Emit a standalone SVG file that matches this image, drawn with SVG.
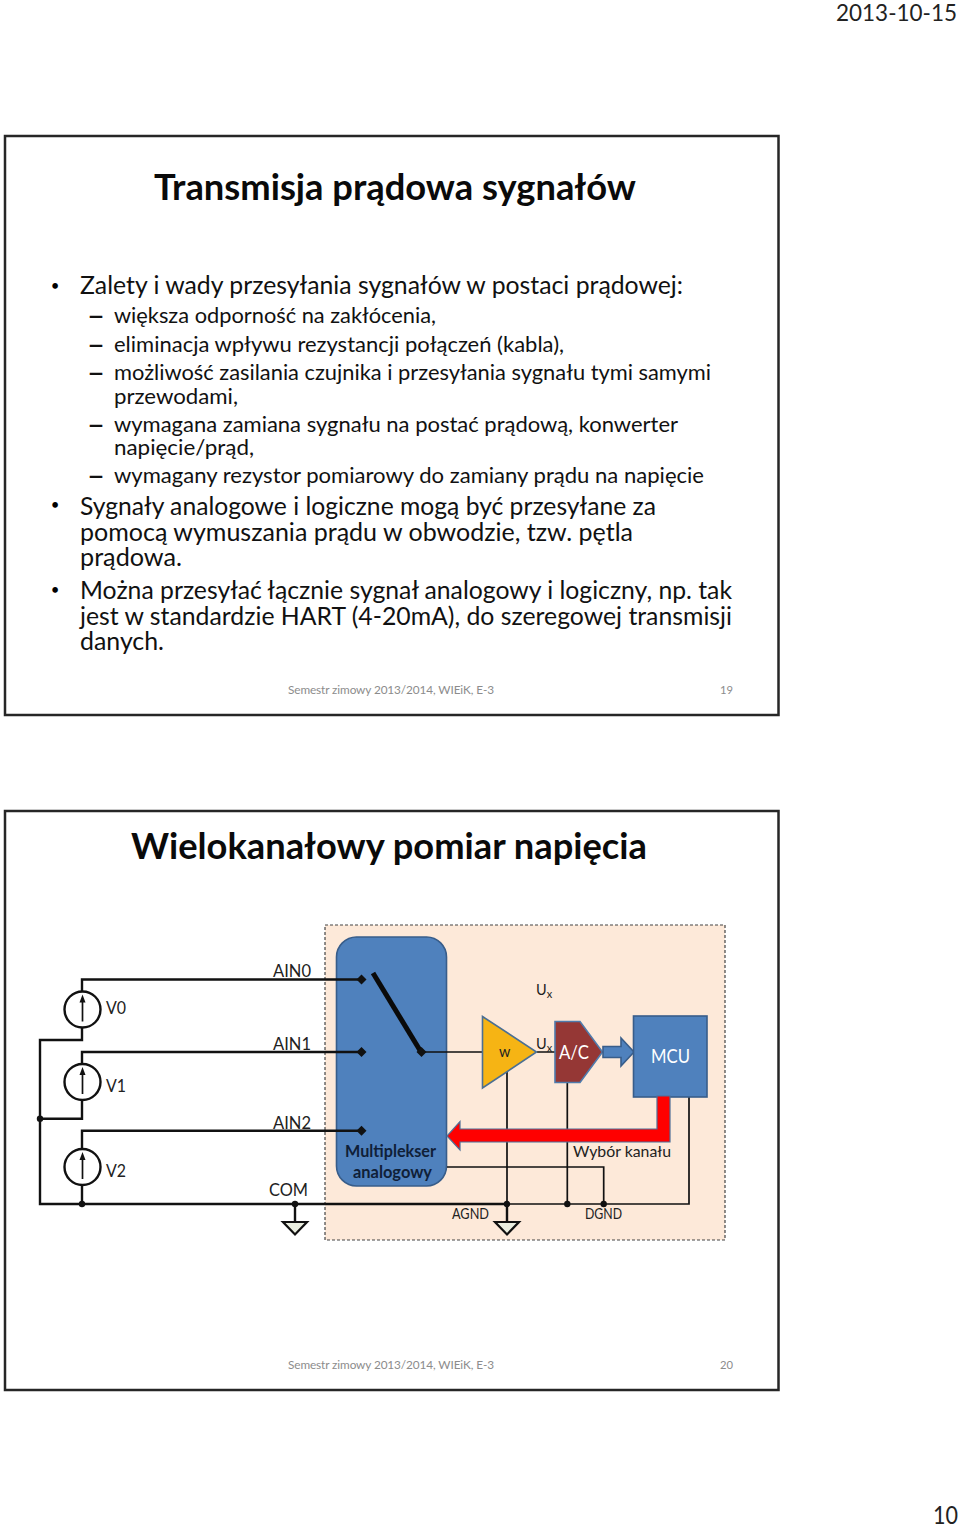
<svg xmlns="http://www.w3.org/2000/svg" width="960" height="1527" viewBox="0 0 960 1527">
<style>
text{font-family:Lato,"Carlito","Noto Sans",sans-serif;fill:#111}
.t{font-weight:700;font-size:36px;fill:#0a0a0a}
.b{font-size:24.5px}
.s{font-size:22px}
.u{font-size:15px;text-anchor:middle;fill:#000}
.d{font-size:26px;font-weight:700}
.f{font-size:11.8px;fill:#8c8c8c}
.l{font-size:17.5px;fill:#222}
.m{font-size:14.5px;fill:#222}
.frame{fill:#fff;stroke:#262626;stroke-width:2.5}
.w{fill:none;stroke:#111;stroke-width:2.4}
.n{fill:none;stroke:#111;stroke-width:1.7}
.dot{fill:#111}
.gnd{fill:#eaeee0;stroke:#111;stroke-width:2.2}
.blue{fill:#4f81bd;stroke:#385d8a;stroke-width:1.6}
.src{fill:#fff;stroke:#111;stroke-width:2.4}
</style>
<defs>
<g id="source"><circle r="18" class="src"/><path d="M0 12V-8" class="n"/><path d="M-3-7 0-15 3-7Z" class="dot"/></g>
<path id="pin" d="M-5 0 0-5 5 0 0 5Z" class="dot"/>
</defs>

<text x="836" y="21" font-size="23.5" textLength="121" lengthAdjust="spacingAndGlyphs" style="fill:#222">2013-10-15</text>
<text x="933" y="1524" font-size="25.5" textLength="25" lengthAdjust="spacingAndGlyphs" style="fill:#222">10</text>

<g id="slide-19">
<rect x="5" y="136" width="773.500" height="579" class="frame"/>
<text class="t" x="154" y="199.500" textLength="482" lengthAdjust="spacingAndGlyphs">Transmisja prądowa sygnałów</text>
<text class="u" x="55" y="290.500">•</text>
<text class="b" x="80" y="294" textLength="603" lengthAdjust="spacingAndGlyphs">Zalety i wady przesyłania sygnałów w postaci prądowej:</text>
<text class="d" x="87" y="325" textLength="18" lengthAdjust="spacingAndGlyphs">–</text>
<text class="s" x="114" y="323" textLength="322" lengthAdjust="spacingAndGlyphs">większa odporność na zakłócenia,</text>
<text class="d" x="87" y="354" textLength="18" lengthAdjust="spacingAndGlyphs">–</text>
<text class="s" x="114" y="352" textLength="450" lengthAdjust="spacingAndGlyphs">eliminacja wpływu rezystancji połączeń (kabla),</text>
<text class="d" x="87" y="382" textLength="18" lengthAdjust="spacingAndGlyphs">–</text>
<text class="s" x="114" y="380" textLength="597" lengthAdjust="spacingAndGlyphs">możliwość zasilania czujnika i przesyłania sygnału tymi samymi</text>
<text class="s" x="114" y="403.500" textLength="124" lengthAdjust="spacingAndGlyphs">przewodami,</text>
<text class="d" x="87" y="433.500" textLength="18" lengthAdjust="spacingAndGlyphs">–</text>
<text class="s" x="114" y="431.500" textLength="564" lengthAdjust="spacingAndGlyphs">wymagana zamiana sygnału na postać prądową, konwerter</text>
<text class="s" x="114" y="455" textLength="140" lengthAdjust="spacingAndGlyphs">napięcie/prąd,</text>
<text class="d" x="87" y="485" textLength="18" lengthAdjust="spacingAndGlyphs">–</text>
<text class="s" x="114" y="483" textLength="590" lengthAdjust="spacingAndGlyphs">wymagany rezystor pomiarowy do zamiany prądu na napięcie</text>
<text class="u" x="55" y="510">•</text>
<text class="b" x="80" y="515" textLength="576" lengthAdjust="spacingAndGlyphs">Sygnały analogowe i logiczne mogą być przesyłane za</text>
<text class="b" x="80" y="540.500" textLength="553" lengthAdjust="spacingAndGlyphs">pomocą wymuszania prądu w obwodzie, tzw. pętla</text>
<text class="b" x="80" y="566" textLength="102" lengthAdjust="spacingAndGlyphs">prądowa.</text>
<text class="u" x="55" y="594.500">•</text>
<text class="b" x="80" y="599" textLength="652" lengthAdjust="spacingAndGlyphs">Można przesyłać łącznie sygnał analogowy i logiczny, np. tak</text>
<text class="b" x="80" y="624.500" textLength="652" lengthAdjust="spacingAndGlyphs">jest w standardzie HART (4-20mA), do szeregowej transmisji</text>
<text class="b" x="80" y="650" textLength="84" lengthAdjust="spacingAndGlyphs">danych.</text>
<text class="f" x="288" y="694" textLength="206" lengthAdjust="spacing">Semestr zimowy 2013/2014, WIEiK, E-3</text>
<text class="f" x="720" y="694" textLength="13" lengthAdjust="spacingAndGlyphs">19</text>
</g>

<g id="slide-20">
<rect x="5" y="811" width="773.500" height="579" class="frame"/>
<text class="t" x="131" y="859" textLength="516" lengthAdjust="spacingAndGlyphs">Wielokanałowy pomiar napięcia</text>
<text class="f" x="288" y="1369" textLength="206" lengthAdjust="spacing">Semestr zimowy 2013/2014, WIEiK, E-3</text>
<text class="f" x="720" y="1369" textLength="13" lengthAdjust="spacingAndGlyphs">20</text>
</g>

<g id="module"><rect x="325" y="925" width="400" height="315" fill="#fde9d9" stroke="#444" stroke-width="1.200" stroke-dasharray="3 2"/></g>

<g id="mux"><rect x="336.500" y="937" width="110" height="249" rx="20" class="blue"/>
<text x="345" y="1157" font-size="17" font-weight="700" style="fill:#0f2038" textLength="91" lengthAdjust="spacingAndGlyphs">Multiplekser</text>
<text x="353" y="1178" font-size="17" font-weight="700" style="fill:#0f2038" textLength="79" lengthAdjust="spacingAndGlyphs">analogowy</text></g>

<g id="connectors">
<path class="w" d="M361 979.500H82V991M82 1028V1040H40V1204H295M361 1052H82V1064M82 1100V1118.700H40M361 1130.700H82V1149M82 1186V1204"/>
<path class="w" d="M295 1204V1222"/>
<path class="w" d="M295 1204H507V1222"/>
<path class="n" d="M421 1052H482M537 1052H555M507 1071V1204M567.300 1082V1204M447 1167H603.700V1204M507 1204H689V1096"/>
<path d="M373 973 421 1052" fill="none" stroke="#0a0a0a" stroke-width="5"/>
<path class="gnd" d="M283 1222H307L295 1234.500Z"/>
<path class="gnd" d="M495 1222H519L507 1234.500Z"/>
<circle class="dot" cx="40" cy="1118.700" r="3.200"/><circle class="dot" cx="82" cy="1204" r="3.200"/><circle class="dot" cx="295" cy="1204" r="3.200"/><circle class="dot" cx="507" cy="1204" r="3.200"/><circle class="dot" cx="567.300" cy="1204" r="3.200"/><circle class="dot" cx="603.700" cy="1204" r="3.200"/>
<use href="#pin" x="361.500" y="979.500"/><use href="#pin" x="361.500" y="1052"/><use href="#pin" x="361.500" y="1130.700"/><use href="#pin" x="421.500" y="1052"/>
</g>

<g id="source-v0"><use href="#source" x="82.500" y="1009.500"/><text class="l" x="106" y="1014" textLength="20" lengthAdjust="spacingAndGlyphs">V0</text></g>
<g id="source-v1"><use href="#source" x="82.500" y="1082"/><text class="l" x="106" y="1092" textLength="20" lengthAdjust="spacingAndGlyphs">V1</text></g>
<g id="source-v2"><use href="#source" x="82.500" y="1167"/><text class="l" x="106" y="1177" textLength="20" lengthAdjust="spacingAndGlyphs">V2</text></g>
<g id="labels">
<text class="l" x="273" y="977" textLength="38" lengthAdjust="spacingAndGlyphs">AIN0</text>
<text class="l" x="273" y="1049.500" textLength="38" lengthAdjust="spacingAndGlyphs">AIN1</text>
<text class="l" x="273" y="1128.500" textLength="38" lengthAdjust="spacingAndGlyphs">AIN2</text>
<text class="l" x="269" y="1196" textLength="39" lengthAdjust="spacingAndGlyphs">COM</text>
<text class="m" x="536" y="995">U<tspan font-size="11" dy="3">x</tspan></text>
<text class="m" x="536" y="1049">U<tspan font-size="11" dy="3">x</tspan></text>
<text class="m" x="452" y="1218.500" textLength="37" lengthAdjust="spacingAndGlyphs">AGND</text>
<text class="m" x="585" y="1218.500" textLength="37" lengthAdjust="spacingAndGlyphs">DGND</text>
<text x="573" y="1157" font-size="16" style="fill:#222" textLength="98" lengthAdjust="spacingAndGlyphs">Wybór kanału</text>
</g>

<g id="amp"><path d="M482.500 1016.500 536.500 1052 482.500 1088Z" fill="#f6b414" stroke="#4a6f94" stroke-width="1.600"/><text class="m" x="499" y="1057">w</text></g>
<g id="adc"><path d="M555 1021.500H580L602.500 1052 580 1082.500H555Z" fill="#953735" stroke="#4f7bac" stroke-width="1.600"/><text x="559" y="1059" font-size="19" style="fill:#fff" textLength="30" lengthAdjust="spacingAndGlyphs">A/C</text></g>
<g id="data-arrow"><path d="M603 1046.500H621V1038L634 1052 621 1066V1057.500H603Z" class="blue"/></g>
<g id="mcu"><rect x="633.500" y="1016" width="73.500" height="81" class="blue"/><text x="651" y="1063" font-size="19" style="fill:#fff" textLength="39" lengthAdjust="spacingAndGlyphs">MCU</text></g>
<g id="select-arrow"><path d="M657 1096H670V1142H460V1150L447 1136 460 1121.500V1129H657Z" fill="#f00" stroke="#4f6f97" stroke-width="1.200"/></g>
</svg>
